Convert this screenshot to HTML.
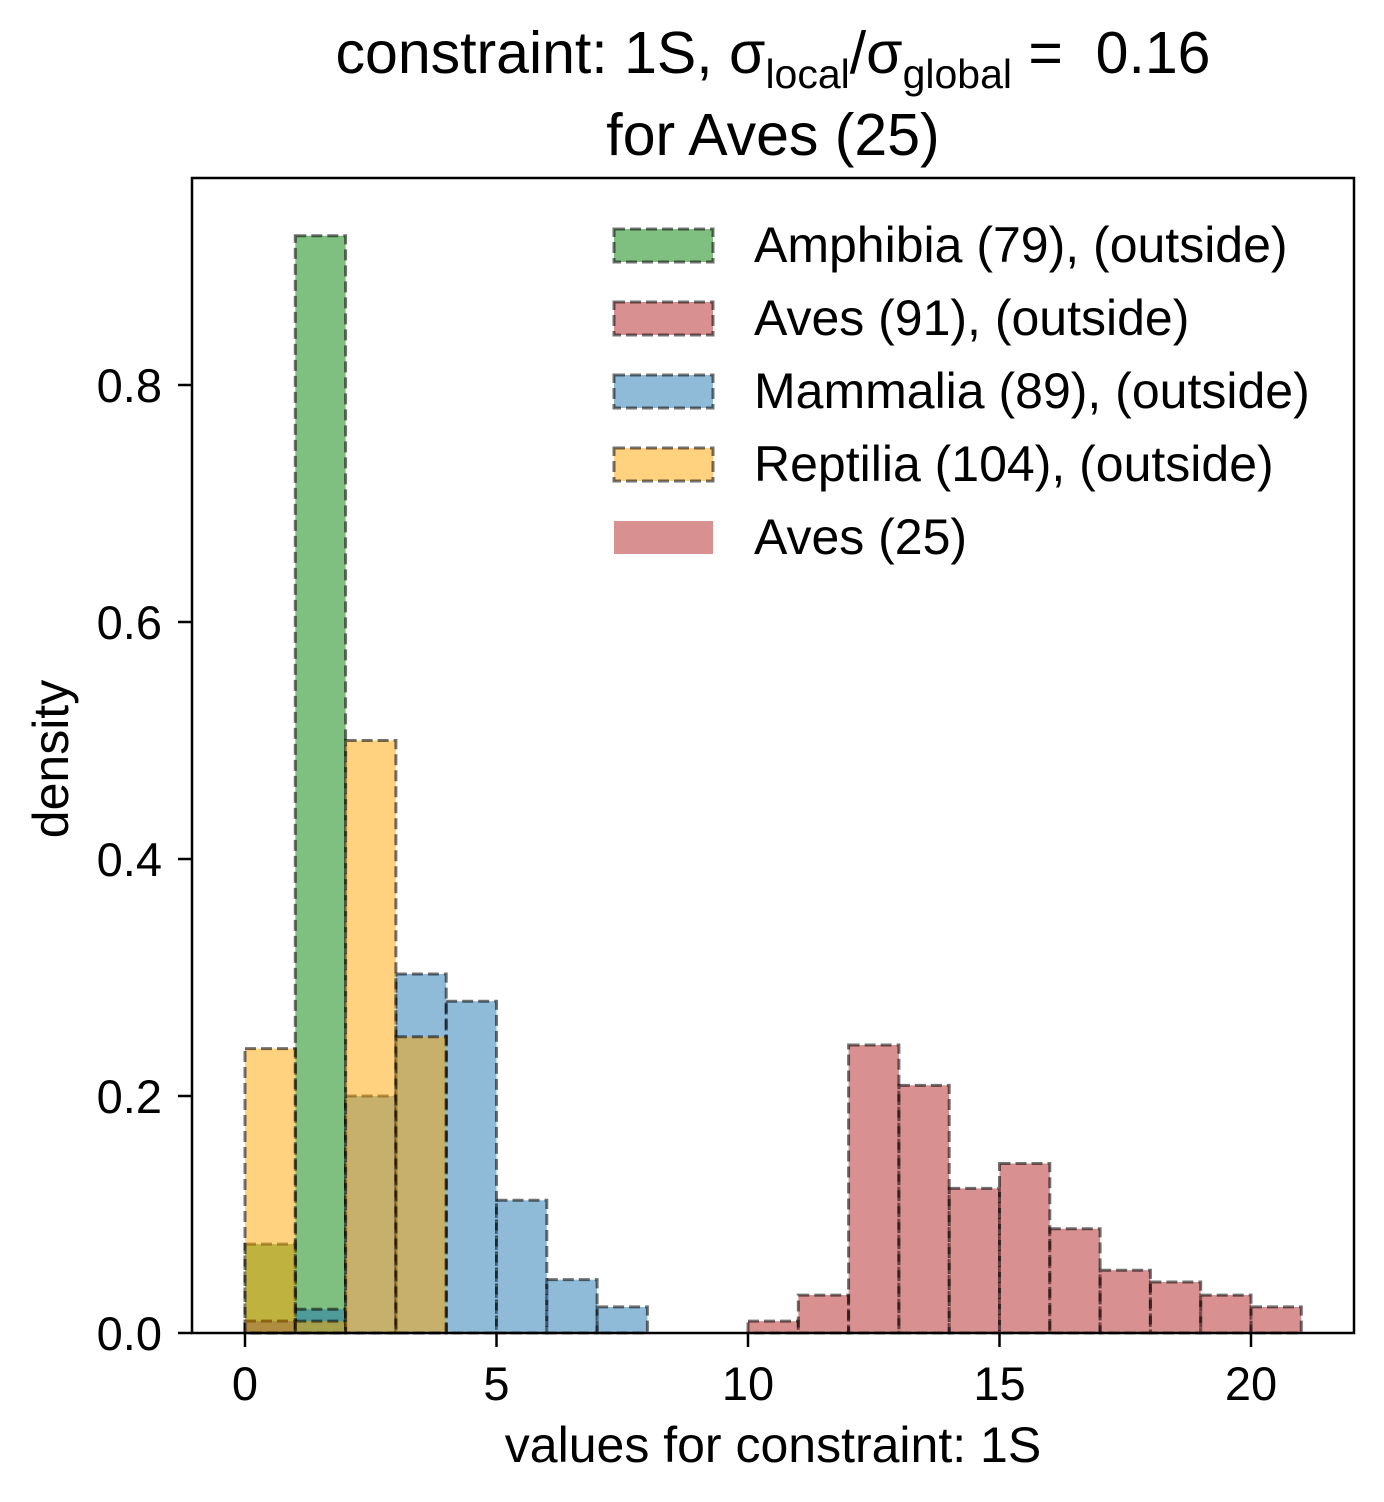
<!DOCTYPE html>
<html><head><meta charset="utf-8"><style>
body{margin:0;background:#fff;}
svg{display:block;font-family:"Liberation Sans",Arial,sans-serif;}
</style></head><body>
<svg id="chart" width="1384" height="1502" viewBox="0 0 1384 1502">
<text x="773" y="73" text-anchor="middle" font-size="59">constraint: 1S, σ<tspan font-size="41" dy="15">local</tspan><tspan dy="-15">/σ</tspan><tspan font-size="41" dy="15">global</tspan><tspan dy="-15"> =&#160; 0.16</tspan></text>
<text x="773" y="155" text-anchor="middle" font-size="59">for Aves (25)</text>
<g id="bars"></g>
<rect x="192" y="178" width="1162" height="1155" fill="none" stroke="#000" stroke-width="2.5"/>
<g id="ticks"></g>
<text x="773" y="1462" text-anchor="middle" font-size="50">values for constraint: 1S</text>
<text transform="translate(68,759) rotate(-90)" text-anchor="middle" font-size="50">density</text>
<g id="legend"></g>
</svg>
<script>
const binEdgesStart = [0,1,2,3,4,5,6,7,8,9,10,11,12,13,14,15,16,17,18,19,20];
const amphibia = [0.075,0.926,0,0,0,0,0,0,0,0,0,0,0,0,0,0,0,0,0,0,0];
const avesOutside = [0.01,0,0,0,0,0,0,0,0,0,0.01,0.032,0.243,0.209,0.122,0.143,0.088,0.053,0.043,0.032,0.022];
const mammalia = [0.01,0.02,0.20,0.303,0.28,0.112,0.045,0.022,0,0,0,0,0,0,0,0,0,0,0,0,0];
const reptilia = [0.24,0.01,0.50,0.25,0,0,0,0,0,0,0,0,0,0,0,0,0,0,0,0,0];
const xTicks = [0,5,10,15,20];
const yTicks = [0.0,0.2,0.4,0.6,0.8];
const legendLabels = ["Amphibia (79), (outside)","Aves (91), (outside)","Mammalia (89), (outside)","Reptilia (104), (outside)","Aves (25)"];

const NS="http://www.w3.org/2000/svg";
const xs=v=>245+v*(1251-245)/20;
const ys=v=>1333-v*(1333-385)/0.8;
function mk(t,a,p){const e=document.createElementNS(NS,t);for(const k in a)e.setAttribute(k,a[k]);p.appendChild(e);return e;}
const series=[[amphibia,"#008000","amphibia"],[avesOutside,"#b22222","aves-outside"],[mammalia,"#1f77b4","mammalia"],[reptilia,"#ffa500","reptilia"]];
const bars=document.getElementById('bars');
series.forEach(([vals,col,nm])=>{
  vals.forEach((v,i)=>{
    if(v<=0)return;
    const x0=xs(binEdgesStart[i]),x1=xs(binEdgesStart[i]+1),y=ys(v);
    const r=mk('rect',{x:x0,y:y,width:x1-x0,height:1333-y,fill:col,'fill-opacity':0.5,stroke:'rgba(0,0,0,0.55)','stroke-width':3,'stroke-dasharray':'11,5'},bars);
    
    
  });
});
const tk=document.getElementById('ticks');
xTicks.forEach(t=>{
  const l=mk('line',{x1:xs(t),x2:xs(t),y1:1333,y2:1347,stroke:'#000','stroke-width':2.5},tk);
  
  
  const s=mk('text',{x:xs(t),y:1400,'text-anchor':'middle','font-size':47},tk);
  s.textContent=t;
  
  
});
yTicks.forEach(t=>{
  const l=mk('line',{x1:178,x2:192,y1:ys(t),y2:ys(t),stroke:'#000','stroke-width':2.5},tk);
  
  
  const s=mk('text',{x:162,y:ys(t)+17,'text-anchor':'end','font-size':47},tk);
  s.textContent=t.toFixed(1);
  
  
});
const lg=document.getElementById('legend');
const lcols=["#008000","#b22222","#1f77b4","#ffa500","#b22222"];
legendLabels.forEach((lab,i)=>{
  const y=245+i*73;
  const a={x:614,y:y-16,width:99,height:33,fill:lcols[i],'fill-opacity':0.5};
  if(i<4){a.stroke='rgba(0,0,0,0.55)';a['stroke-width']=3;a['stroke-dasharray']='11,5';}
  const r=mk('rect',a,lg);
  
  
  const s=mk('text',{x:754,y:y+17,'font-size':50},lg);
  s.textContent=lab;
  
  
});
</script>
</body></html>
